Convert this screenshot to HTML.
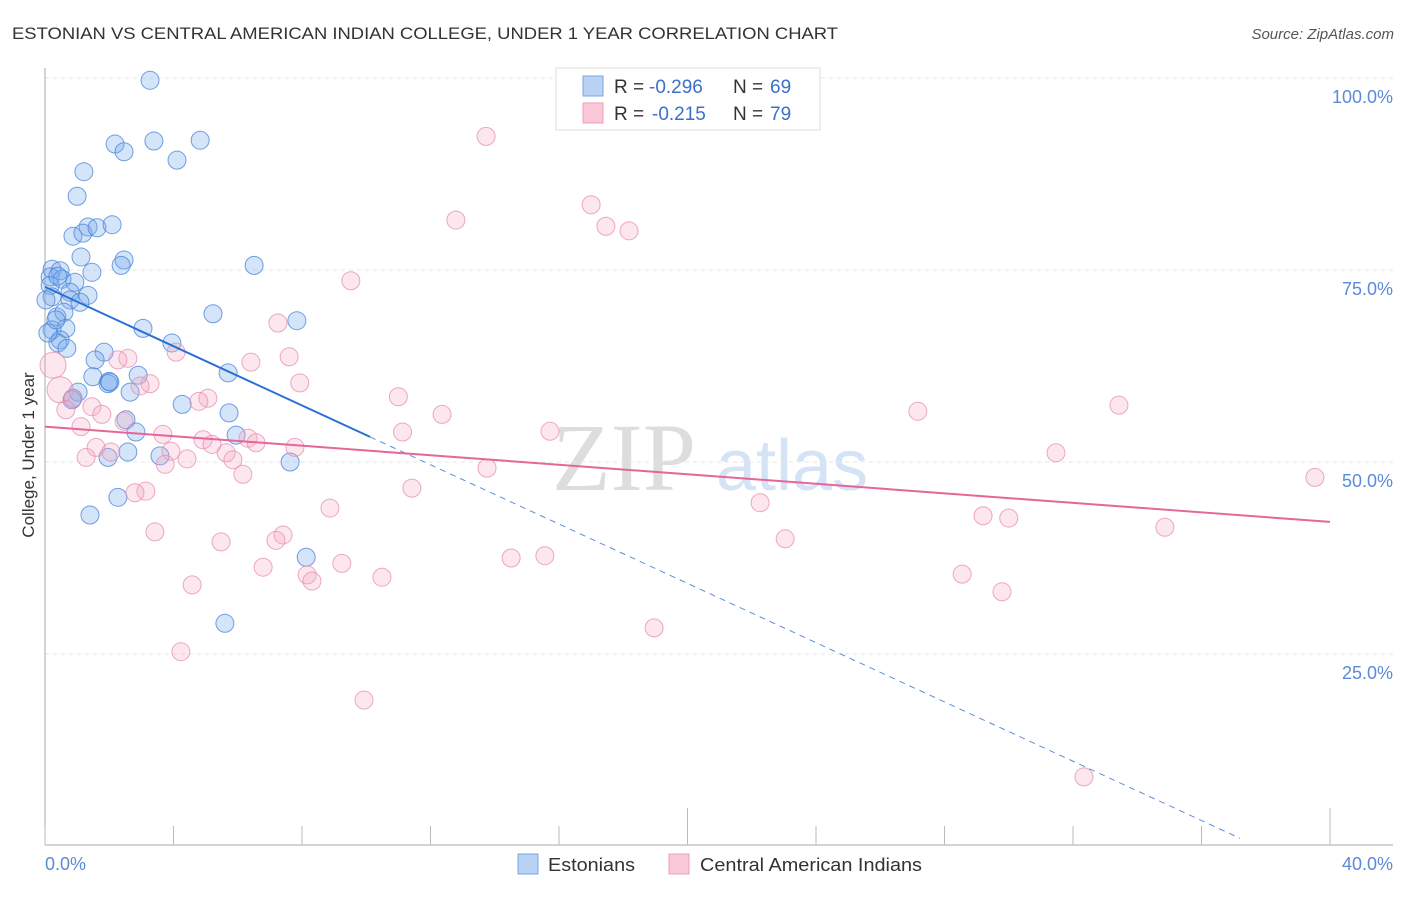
<!DOCTYPE html>
<html><head><meta charset="utf-8"><style>
body{margin:0;background:#fff;font-family:"Liberation Sans",sans-serif}
</style></head><body>
<svg id="c" width="1406" height="892" xmlns="http://www.w3.org/2000/svg" font-family="Liberation Sans, sans-serif">
<text x="12" y="39" font-size="17" fill="#333" textLength="826" lengthAdjust="spacingAndGlyphs">ESTONIAN VS CENTRAL AMERICAN INDIAN COLLEGE, UNDER 1 YEAR CORRELATION CHART</text>
<text x="1394" y="39" font-size="15" fill="#555" text-anchor="end" font-style="italic">Source: ZipAtlas.com</text>
<g><text x="552" y="490" font-size="96" fill="#ddd" font-family="Liberation Serif, serif">ZIP</text><text x="716" y="490" font-size="72" fill="#d4e3f5">atlas</text></g>
<g id="grid"></g><g id="pts"></g><g id="lines"></g>
<text transform="translate(34,455) rotate(-90)" font-size="17" fill="#333" text-anchor="middle">College, Under 1 year</text>
<text x="45" y="870" font-size="18" fill="#5a8ad8">0.0%</text>
<text x="1393" y="870" font-size="18" fill="#5a8ad8" text-anchor="end">40.0%</text>
<g>
<rect x="556" y="68" width="264" height="62" fill="#fff" stroke="#ddd"/>
<rect x="583" y="76" width="20" height="20" fill="#b8d3f4" stroke="#7aa6e0"/>
<rect x="583" y="103" width="20" height="20" fill="#fac8d8" stroke="#eea0b8"/>
<text x="614" y="93" font-size="19" fill="#333">R =</text>
<text x="649" y="93" font-size="19" fill="#3a70c8">-0.296</text>
<text x="733" y="93" font-size="19" fill="#333">N =</text>
<text x="770" y="93" font-size="19" fill="#3a70c8">69</text>
<text x="614" y="120" font-size="19" fill="#333">R =</text>
<text x="652" y="120" font-size="19" fill="#3a70c8">-0.215</text>
<text x="733" y="120" font-size="19" fill="#333">N =</text>
<text x="770" y="120" font-size="19" fill="#3a70c8">79</text>
</g>
<g>
<rect x="518" y="854" width="20" height="20" fill="#b8d3f4" stroke="#7aa6e0"/>
<text x="548" y="871" font-size="18" fill="#333" textLength="87" lengthAdjust="spacingAndGlyphs">Estonians</text>
<rect x="669" y="854" width="20" height="20" fill="#fac8d8" stroke="#eea0b8"/>
<text x="700" y="871" font-size="18" fill="#333" textLength="222" lengthAdjust="spacingAndGlyphs">Central American Indians</text>
</g>
</svg>
<script>
const yTicks=[25,50,75,100];
const yTickLabels=["25.0%","50.0%","75.0%","100.0%"];
const xTicks=[0,4,8,12,16,20,24,28,32,36,40];
const estX=[3.27,2.18,2.46,3.39,4.11,4.83,1.21,1.00,1.34,0.87,1.18,1.62,2.09,1.12,2.46,2.37,6.51,0.22,0.47,0.16,0.53,0.93,1.46,0.16,0.78,1.34,0.22,0.78,1.09,5.23,7.84,0.37,0.59,0.22,0.65,3.05,3.95,0.47,0.40,0.68,1.84,1.56,1.49,1.99,1.96,2.90,5.70,2.65,1.03,0.84,4.27,5.73,2.52,2.83,5.95,2.58,1.96,3.58,7.63,2.27,1.40,8.13,5.60,0.09,0.34,0.03,0.40,2.02,0.87];
const estY=[99.7,91.4,90.4,91.8,89.3,91.9,87.8,84.6,80.6,79.4,79.8,80.5,80.9,76.7,76.3,75.6,75.6,75.1,74.9,74.1,73.8,73.4,74.7,73.0,72.1,71.7,71.5,71.1,70.8,69.3,68.4,68.9,69.5,67.2,67.4,67.4,65.5,65.9,65.5,64.8,64.3,63.3,61.1,60.5,60.2,61.3,61.6,59.1,59.1,58.1,57.5,56.4,55.5,53.9,53.5,51.3,50.6,50.8,50.0,45.4,43.1,37.6,29.0,66.8,68.5,71.1,74.2,60.4,58.3];
const camX=[13.73,17.0,12.79,17.46,18.18,9.52,7.25,7.60,6.41,4.08,2.58,2.27,0.25,0.47,3.27,2.96,7.93,11.0,5.07,4.79,0.87,1.46,0.65,1.77,2.46,12.36,27.17,33.43,1.12,11.13,15.72,3.67,6.32,4.92,5.20,6.57,7.78,1.59,2.05,3.92,5.64,5.85,1.28,4.42,3.74,13.76,31.47,39.53,6.16,11.42,3.14,2.80,22.26,8.87,29.2,30.0,34.86,3.42,7.41,7.19,5.48,23.04,15.56,14.51,9.24,6.79,28.55,10.49,8.16,8.31,4.58,29.79,18.96,4.23,9.93,32.34];
const camY=[92.4,83.5,81.5,80.7,80.1,73.6,68.1,63.7,63.0,64.3,63.5,63.3,62.6,59.4,60.2,59.9,60.3,58.5,58.3,57.9,58.3,57.2,56.8,56.2,55.3,56.2,56.6,57.4,54.6,53.9,54.0,53.6,53.1,52.9,52.3,52.5,51.9,51.9,51.3,51.4,51.2,50.3,50.6,50.4,49.7,49.2,51.2,48.0,48.4,46.6,46.2,46.0,44.7,44.0,43.0,42.7,41.5,40.9,40.5,39.8,39.6,40.0,37.8,37.5,36.8,36.3,35.4,35.0,35.3,34.5,34.0,33.1,28.4,25.3,19.0,9.0];
const estTrend=[72.8,-1.93];
const camTrend=[54.6,-0.31];
const X=v=>45+v/40*1285, Y=v=>846-v/100*768;
const NS='http://www.w3.org/2000/svg';
function mk(t,a,p){const e=document.createElementNS(NS,t);for(const k in a)e.setAttribute(k,a[k]);p.appendChild(e);return e;}
const g=document.getElementById('grid');
yTicks.forEach((t,i)=>{
 const l=mk('line',{x1:45,x2:1393,y1:Y(t),y2:Y(t),stroke:'#e6e6e6','stroke-dasharray':'4,4'},g);
 
 
 const tx=mk('text',{x:1393,y:Y(t)+25,'font-size':18,fill:'#5a8ad8','text-anchor':'end'},g);
 tx.textContent=yTickLabels[i];
 
 
});
const ax=mk('line',{x1:45,x2:1393,y1:845,y2:845,stroke:'#aaa'},g);


const ay=mk('line',{x1:45,x2:45,y1:68,y2:845,stroke:'#aaa'},g);


xTicks.forEach(t=>{
 const tall=(t==20||t==40);
 const l=mk('line',{x1:X(t),x2:X(t),y1:tall?808:826,y2:845,stroke:'#bbb'},g);
 
 
});
const p=document.getElementById('pts');
estX.forEach((x,i)=>{
 const c=mk('circle',{cx:X(x),cy:Y(estY[i]),r:9,fill:'rgba(120,170,235,0.32)',stroke:'rgba(70,130,215,0.75)','stroke-width':1},p);
 
 
});
camX.forEach((x,i)=>{
 const big=(i==12||i==13);
 const c=mk('circle',{cx:X(x),cy:Y(camY[i]),r:big?13:9,fill:'rgba(245,170,195,0.28)',stroke:'rgba(230,140,175,0.75)','stroke-width':1},p);
 
 
});
const L=document.getElementById('lines');
const f=(tr,x)=>tr[0]+tr[1]*x;
const b1=mk('line',{x1:X(0),y1:Y(f(estTrend,0)),x2:X(10.12),y2:Y(f(estTrend,10.12)),stroke:'#2a6fd6','stroke-width':2},L);


const b2=mk('line',{x1:X(10.12),y1:Y(f(estTrend,10.12)),x2:X(37.2),y2:Y(f(estTrend,37.2)),stroke:'#5b8fd8','stroke-width':1,'stroke-dasharray':'6,5'},L);


const c1=mk('line',{x1:X(0),y1:Y(f(camTrend,0)),x2:X(40),y2:Y(f(camTrend,40)),stroke:'#e4669a','stroke-width':2},L);


</script>
</body></html>
